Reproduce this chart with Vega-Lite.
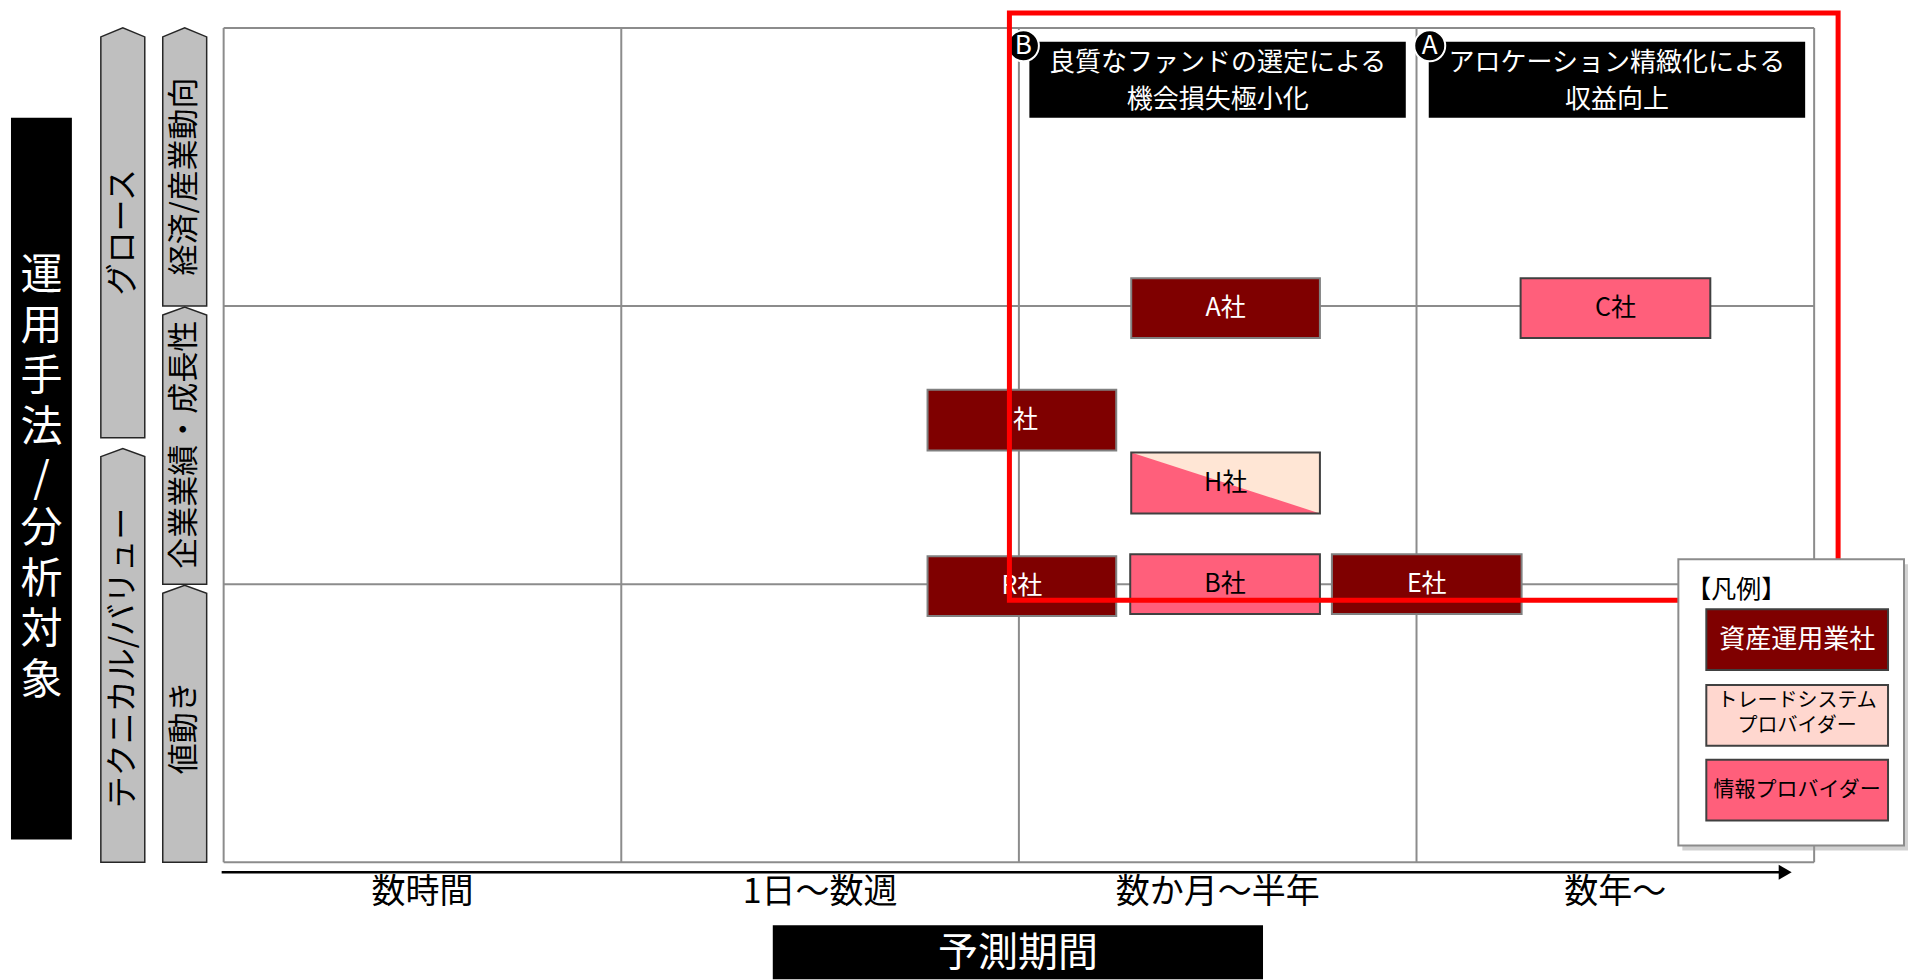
{
  "$schema": "https://vega.github.io/schema/vega-lite/v6.json",
  "width": 1908,
  "height": 980,
  "autosize": {"type": "fit", "contains": "padding"},
  "padding": 0,
  "background": "white",
  "config": {"font": "Noto Sans CJK JP", "view": {"stroke": null}},
  "layer": [
    {
      "data": {"values": [
        {"x": 0, "x2": 0, "y": 0, "y2": 3},
        {"x": 1, "x2": 1, "y": 0, "y2": 3},
        {"x": 2, "x2": 2, "y": 0, "y2": 3},
        {"x": 3, "x2": 3, "y": 0, "y2": 3},
        {"x": 4, "x2": 4, "y": 0, "y2": 3},
        {"x": 0, "x2": 4, "y": 0, "y2": 0},
        {"x": 0, "x2": 4, "y": 1, "y2": 1},
        {"x": 0, "x2": 4, "y": 2, "y2": 2},
        {"x": 0, "x2": 4, "y": 3, "y2": 3}
      ]},
      "mark": {"type": "rule", "stroke": "#8c8c8c", "strokeWidth": 2},
      "encoding": {
        "x": {"field": "x", "type": "quantitative", "scale": {"domain": [-0.56246, 4.2285], "nice": false, "zero": false}, "axis": null},
        "x2": {"field": "x2"},
        "y": {"field": "y", "type": "quantitative", "scale": {"domain": [-0.41219, 3.10036], "nice": false, "zero": false}, "axis": null},
        "y2": {"field": "y2"}
      }
    },
    {
      "data": {"values": [
        {"tab": "growth", "u": -0.30885, "top": 2.96774, "bot": 1.52688},
        {"tab": "growth", "u": -0.25361, "top": 3.0, "bot": 1.52688},
        {"tab": "growth", "u": -0.19837, "top": 2.96774, "bot": 1.52688},
        {"tab": "value", "u": -0.30885, "top": 1.45878, "bot": 0},
        {"tab": "value", "u": -0.25361, "top": 1.48746, "bot": 0},
        {"tab": "value", "u": -0.19837, "top": 1.45878, "bot": 0},
        {"tab": "macro", "u": -0.15317, "top": 2.96774, "bot": 2.0},
        {"tab": "macro", "u": -0.09793, "top": 3.0, "bot": 2.0},
        {"tab": "macro", "u": -0.04269, "top": 2.96774, "bot": 2.0},
        {"tab": "earn", "u": -0.15317, "top": 1.96774, "bot": 1.0},
        {"tab": "earn", "u": -0.09793, "top": 1.99642, "bot": 1.0},
        {"tab": "earn", "u": -0.04269, "top": 1.96774, "bot": 1.0},
        {"tab": "price", "u": -0.15317, "top": 0.96774, "bot": 0},
        {"tab": "price", "u": -0.09793, "top": 0.99642, "bot": 0},
        {"tab": "price", "u": -0.04269, "top": 0.96774, "bot": 0}
      ]},
      "mark": {"type": "area", "orient": "vertical", "interpolate": "linear", "fill": "#bfbfbf", "fillOpacity": 1, "stroke": "#262626", "strokeWidth": 1.5},
      "encoding": {
        "x": {"field": "u", "type": "quantitative", "scale": {"domain": [-0.56246, 4.2285], "nice": false, "zero": false}, "axis": null},
        "y": {"field": "top", "type": "quantitative", "scale": {"domain": [-0.41219, 3.10036], "nice": false, "zero": false}, "axis": null},
        "y2": {"field": "bot"},
        "detail": {"field": "tab", "type": "nominal"}
      }
    },
    {
      "data": {"values": [{"x": -0.53484, "x2": -0.38167, "y": 2.67742, "y2": 0.08244}]},
      "mark": {"type": "rect", "fill": "#000000"},
      "encoding": {
        "x": {"field": "x", "type": "quantitative", "scale": {"domain": [-0.56246, 4.2285], "nice": false, "zero": false}, "axis": null},
        "x2": {"field": "x2"},
        "y": {"field": "y", "type": "quantitative", "scale": {"domain": [-0.41219, 3.10036], "nice": false, "zero": false}, "axis": null},
        "y2": {"field": "y2"}
      }
    },
    {
      "data": {"values": [
        {"u": -0.45826, "v": 2.10753, "label": "運"},
        {"u": -0.45826, "v": 1.92563, "label": "用"},
        {"u": -0.45826, "v": 1.74373, "label": "手"},
        {"u": -0.45826, "v": 1.56183, "label": "法"},
        {"u": -0.45826, "v": 1.37993, "label": "/"},
        {"u": -0.45826, "v": 1.19803, "label": "分"},
        {"u": -0.45826, "v": 1.01613, "label": "析"},
        {"u": -0.45826, "v": 0.83423, "label": "対"},
        {"u": -0.45826, "v": 0.65233, "label": "象"}
      ]},
      "mark": {"type": "text", "fill": "white", "fontSize": 42, "align": "center", "baseline": "middle"},
      "encoding": {
        "x": {"field": "u", "type": "quantitative", "scale": {"domain": [-0.56246, 4.2285], "nice": false, "zero": false}, "axis": null},
        "y": {"field": "v", "type": "quantitative", "scale": {"domain": [-0.41219, 3.10036], "nice": false, "zero": false}, "axis": null},
        "text": {"field": "label"}
      }
    },
    {
      "data": {"values": [
        {"u": -0.25361, "v": 2.26523, "label": "グロース"},
        {"u": -0.25361, "v": 0.73477, "label": "テクニカル/バリュー"}
      ]},
      "mark": {"type": "text", "angle": 270, "fill": "black", "fontSize": 32, "align": "center", "baseline": "middle"},
      "encoding": {
        "x": {"field": "u", "type": "quantitative", "scale": {"domain": [-0.56246, 4.2285], "nice": false, "zero": false}, "axis": null},
        "y": {"field": "v", "type": "quantitative", "scale": {"domain": [-0.41219, 3.10036], "nice": false, "zero": false}, "axis": null},
        "text": {"field": "label"}
      }
    },
    {
      "data": {"values": [
        {"u": -0.09793, "v": 2.46595, "label": "経済/産業動向"},
        {"u": -0.09793, "v": 1.50179, "label": "企業業績・成長性"},
        {"u": -0.09793, "v": 0.48387, "label": "値動き"}
      ]},
      "mark": {"type": "text", "angle": 270, "fill": "black", "fontSize": 31, "align": "center", "baseline": "middle"},
      "encoding": {
        "x": {"field": "u", "type": "quantitative", "scale": {"domain": [-0.56246, 4.2285], "nice": false, "zero": false}, "axis": null},
        "y": {"field": "v", "type": "quantitative", "scale": {"domain": [-0.41219, 3.10036], "nice": false, "zero": false}, "axis": null},
        "text": {"field": "label"}
      }
    },
    {
      "data": {"values": [
        {"name": "A社", "kind": "asset", "x": 2.28249, "x2": 2.75706, "y": 2.10036, "y2": 1.8853},
        {"name": "C社", "kind": "info", "x": 3.26177, "x2": 3.73886, "y": 2.10036, "y2": 1.8853},
        {"name": "I社", "kind": "asset", "x": 1.77024, "x2": 2.24482, "y": 1.69892, "y2": 1.48029},
        {"name": "H社", "kind": "mixed", "x": 2.28249, "x2": 2.75706, "y": 1.47312, "y2": 1.25448},
        {"name": "R社", "kind": "asset", "x": 1.77024, "x2": 2.24482, "y": 1.10036, "y2": 0.8853},
        {"name": "B社", "kind": "info", "x": 2.27998, "x2": 2.75706, "y": 1.10753, "y2": 0.89247},
        {"name": "E社", "kind": "asset", "x": 2.78719, "x2": 3.26428, "y": 1.10753, "y2": 0.89247}
      ]},
      "mark": {"type": "rect"},
      "encoding": {
        "x": {"field": "x", "type": "quantitative", "scale": {"domain": [-0.56246, 4.2285], "nice": false, "zero": false}, "axis": null},
        "x2": {"field": "x2"},
        "y": {"field": "y", "type": "quantitative", "scale": {"domain": [-0.41219, 3.10036], "nice": false, "zero": false}, "axis": null},
        "y2": {"field": "y2"},
        "fill": {"field": "kind", "type": "nominal", "scale": {"domain": ["asset", "info", "mixed", "trade"], "range": ["#7f0000", "#ff5f7b", "#ff5f7b", "#ffd7cf"]}, "legend": null}
      }
    },
    {
      "data": {"values": [
        {"u": 2.28249, "top": 1.47312, "bot": 1.47312},
        {"u": 2.75706, "top": 1.47312, "bot": 1.25448}
      ]},
      "mark": {"type": "area", "orient": "vertical", "interpolate": "linear", "fill": "#ffe6d5", "fillOpacity": 1},
      "encoding": {
        "x": {"field": "u", "type": "quantitative", "scale": {"domain": [-0.56246, 4.2285], "nice": false, "zero": false}, "axis": null},
        "y": {"field": "top", "type": "quantitative", "scale": {"domain": [-0.41219, 3.10036], "nice": false, "zero": false}, "axis": null},
        "y2": {"field": "bot"}
      }
    },
    {
      "data": {"values": [
        {"kind": "asset", "x": 2.28249, "x2": 2.75706, "y": 2.10036, "y2": 1.8853},
        {"kind": "info", "x": 3.26177, "x2": 3.73886, "y": 2.10036, "y2": 1.8853},
        {"kind": "asset", "x": 1.77024, "x2": 2.24482, "y": 1.69892, "y2": 1.48029},
        {"kind": "mixed", "x": 2.28249, "x2": 2.75706, "y": 1.47312, "y2": 1.25448},
        {"kind": "asset", "x": 1.77024, "x2": 2.24482, "y": 1.10036, "y2": 0.8853},
        {"kind": "info", "x": 2.27998, "x2": 2.75706, "y": 1.10753, "y2": 0.89247},
        {"kind": "asset", "x": 2.78719, "x2": 3.26428, "y": 1.10753, "y2": 0.89247}
      ]},
      "mark": {"type": "rect", "fill": "transparent", "strokeWidth": 2},
      "encoding": {
        "x": {"field": "x", "type": "quantitative", "scale": {"domain": [-0.56246, 4.2285], "nice": false, "zero": false}, "axis": null},
        "x2": {"field": "x2"},
        "y": {"field": "y", "type": "quantitative", "scale": {"domain": [-0.41219, 3.10036], "nice": false, "zero": false}, "axis": null},
        "y2": {"field": "y2"},
        "stroke": {"field": "kind", "type": "nominal", "scale": {"domain": ["asset", "info", "mixed"], "range": ["#808080", "#404040", "#404040"]}, "legend": null}
      }
    },
    {
      "data": {"values": [
        {"name": "A社", "kind": "asset", "u": 2.51977, "v": 1.99283},
        {"name": "C社", "kind": "info", "u": 3.50031, "v": 1.99283},
        {"name": "I社", "kind": "asset", "u": 2.00753, "v": 1.58961},
        {"name": "H社", "kind": "mixed", "u": 2.51977, "v": 1.3638},
        {"name": "R社", "kind": "asset", "u": 2.00753, "v": 0.99283},
        {"name": "B社", "kind": "info", "u": 2.51852, "v": 1.0},
        {"name": "E社", "kind": "asset", "u": 3.02573, "v": 1.0}
      ]},
      "mark": {"type": "text", "fontSize": 25, "align": "center", "baseline": "middle"},
      "encoding": {
        "x": {"field": "u", "type": "quantitative", "scale": {"domain": [-0.56246, 4.2285], "nice": false, "zero": false}, "axis": null},
        "y": {"field": "v", "type": "quantitative", "scale": {"domain": [-0.41219, 3.10036], "nice": false, "zero": false}, "axis": null},
        "text": {"field": "name"},
        "color": {"field": "kind", "type": "nominal", "scale": {"domain": ["asset", "info", "mixed"], "range": ["#ffffff", "#000000", "#000000"]}, "legend": null}
      }
    },
    {
      "data": {"values": [
        {"x": 2.02637, "x2": 2.97301, "y": 2.94982, "y2": 2.67742},
        {"x": 3.03076, "x2": 3.9774, "y": 2.94982, "y2": 2.67742}
      ]},
      "mark": {"type": "rect", "fill": "#000000"},
      "encoding": {
        "x": {"field": "x", "type": "quantitative", "scale": {"domain": [-0.56246, 4.2285], "nice": false, "zero": false}, "axis": null},
        "x2": {"field": "x2"},
        "y": {"field": "y", "type": "quantitative", "scale": {"domain": [-0.41219, 3.10036], "nice": false, "zero": false}, "axis": null},
        "y2": {"field": "y2"}
      }
    },
    {
      "data": {"values": [
        {"u": 2.5, "v": 2.87455, "label": "良質なファンドの選定による\n機会損失極小化"},
        {"u": 3.50408, "v": 2.87455, "label": "アロケーション精緻化による\n収益向上"}
      ]},
      "mark": {"type": "text", "fill": "white", "fontSize": 26, "lineHeight": 37, "lineBreak": "\n", "align": "center", "baseline": "middle"},
      "encoding": {
        "x": {"field": "u", "type": "quantitative", "scale": {"domain": [-0.56246, 4.2285], "nice": false, "zero": false}, "axis": null},
        "y": {"field": "v", "type": "quantitative", "scale": {"domain": [-0.41219, 3.10036], "nice": false, "zero": false}, "axis": null},
        "text": {"field": "label"}
      }
    },
    {
      "data": {"values": [
        {"u": 2.0113, "v": 2.93548, "label": "B"},
        {"u": 3.03327, "v": 2.93548, "label": "A"}
      ]},
      "mark": {"type": "point", "shape": "circle", "filled": true, "fill": "#000000", "stroke": "#ffffff", "strokeWidth": 2, "size": 960, "opacity": 1},
      "encoding": {
        "x": {"field": "u", "type": "quantitative", "scale": {"domain": [-0.56246, 4.2285], "nice": false, "zero": false}, "axis": null},
        "y": {"field": "v", "type": "quantitative", "scale": {"domain": [-0.41219, 3.10036], "nice": false, "zero": false}, "axis": null}
      }
    },
    {
      "data": {"values": [
        {"u": 2.0113, "v": 2.93548, "label": "B"},
        {"u": 3.03327, "v": 2.93548, "label": "A"}
      ]},
      "mark": {"type": "text", "fill": "white", "fontSize": 26, "align": "center", "baseline": "middle"},
      "encoding": {
        "x": {"field": "u", "type": "quantitative", "scale": {"domain": [-0.56246, 4.2285], "nice": false, "zero": false}, "axis": null},
        "y": {"field": "v", "type": "quantitative", "scale": {"domain": [-0.41219, 3.10036], "nice": false, "zero": false}, "axis": null},
        "text": {"field": "label"}
      }
    },
    {
      "data": {"values": [{"x": 1.97615, "x2": 4.06026, "y": 3.05376, "y2": 0.94265}]},
      "mark": {"type": "rect", "fill": "transparent", "stroke": "#ff0000", "strokeWidth": 5},
      "encoding": {
        "x": {"field": "x", "type": "quantitative", "scale": {"domain": [-0.56246, 4.2285], "nice": false, "zero": false}, "axis": null},
        "x2": {"field": "x2"},
        "y": {"field": "y", "type": "quantitative", "scale": {"domain": [-0.41219, 3.10036], "nice": false, "zero": false}, "axis": null},
        "y2": {"field": "y2"}
      }
    },
    {
      "data": {"values": [{"x": 3.66855, "x2": 4.236, "y": 1.07168, "y2": 0.04301}]},
      "mark": {"type": "rect", "fill": "#9a9a9a", "opacity": 0.45},
      "encoding": {
        "x": {"field": "x", "type": "quantitative", "scale": {"domain": [-0.56246, 4.2285], "nice": false, "zero": false}, "axis": null},
        "x2": {"field": "x2"},
        "y": {"field": "y", "type": "quantitative", "scale": {"domain": [-0.41219, 3.10036], "nice": false, "zero": false}, "axis": null},
        "y2": {"field": "y2"}
      }
    },
    {
      "data": {"values": [{"x": 3.6585, "x2": 4.22599, "y": 1.08961, "y2": 0.06093}]},
      "mark": {"type": "rect", "fill": "#ffffff", "stroke": "#8c8c8c", "strokeWidth": 2},
      "encoding": {
        "x": {"field": "x", "type": "quantitative", "scale": {"domain": [-0.56246, 4.2285], "nice": false, "zero": false}, "axis": null},
        "x2": {"field": "x2"},
        "y": {"field": "y", "type": "quantitative", "scale": {"domain": [-0.41219, 3.10036], "nice": false, "zero": false}, "axis": null},
        "y2": {"field": "y2"}
      }
    },
    {
      "data": {"values": [
        {"kind": "asset", "x": 3.72881, "x2": 4.18581, "y": 0.91039, "y2": 0.69176},
        {"kind": "trade", "x": 3.72881, "x2": 4.18581, "y": 0.63799, "y2": 0.41935},
        {"kind": "info", "x": 3.72881, "x2": 4.18581, "y": 0.36918, "y2": 0.15054}
      ]},
      "mark": {"type": "rect", "stroke": "#404040", "strokeWidth": 2},
      "encoding": {
        "x": {"field": "x", "type": "quantitative", "scale": {"domain": [-0.56246, 4.2285], "nice": false, "zero": false}, "axis": null},
        "x2": {"field": "x2"},
        "y": {"field": "y", "type": "quantitative", "scale": {"domain": [-0.41219, 3.10036], "nice": false, "zero": false}, "axis": null},
        "y2": {"field": "y2"},
        "fill": {"field": "kind", "type": "nominal", "scale": {"domain": ["asset", "info", "mixed", "trade"], "range": ["#7f0000", "#ff5f7b", "#ff5f7b", "#ffd7cf"]}, "legend": null}
      }
    },
    {
      "data": {"values": [{"u": 3.69868, "v": 0.97849, "label": "【凡例】"}]},
      "mark": {"type": "text", "fill": "black", "fontSize": 25, "align": "left", "baseline": "middle", "dx": -8},
      "encoding": {
        "x": {"field": "u", "type": "quantitative", "scale": {"domain": [-0.56246, 4.2285], "nice": false, "zero": false}, "axis": null},
        "y": {"field": "v", "type": "quantitative", "scale": {"domain": [-0.41219, 3.10036], "nice": false, "zero": false}, "axis": null},
        "text": {"field": "label"}
      }
    },
    {
      "data": {"values": [{"u": 3.95731, "v": 0.80108, "label": "資産運用業社"}]},
      "mark": {"type": "text", "fill": "white", "fontSize": 26, "align": "center", "baseline": "middle"},
      "encoding": {
        "x": {"field": "u", "type": "quantitative", "scale": {"domain": [-0.56246, 4.2285], "nice": false, "zero": false}, "axis": null},
        "y": {"field": "v", "type": "quantitative", "scale": {"domain": [-0.41219, 3.10036], "nice": false, "zero": false}, "axis": null},
        "text": {"field": "label"}
      }
    },
    {
      "data": {"values": [{"u": 3.95731, "v": 0.58065, "label": "トレードシステム\nプロバイダー"}]},
      "mark": {"type": "text", "fill": "black", "fontSize": 20, "lineHeight": 25, "lineBreak": "\n", "align": "center", "baseline": "middle"},
      "encoding": {
        "x": {"field": "u", "type": "quantitative", "scale": {"domain": [-0.56246, 4.2285], "nice": false, "zero": false}, "axis": null},
        "y": {"field": "v", "type": "quantitative", "scale": {"domain": [-0.41219, 3.10036], "nice": false, "zero": false}, "axis": null},
        "text": {"field": "label"}
      }
    },
    {
      "data": {"values": [{"u": 3.95731, "v": 0.25986, "label": "情報プロバイダー"}]},
      "mark": {"type": "text", "fill": "black", "fontSize": 21, "align": "center", "baseline": "middle"},
      "encoding": {
        "x": {"field": "u", "type": "quantitative", "scale": {"domain": [-0.56246, 4.2285], "nice": false, "zero": false}, "axis": null},
        "y": {"field": "v", "type": "quantitative", "scale": {"domain": [-0.41219, 3.10036], "nice": false, "zero": false}, "axis": null},
        "text": {"field": "label"}
      }
    },
    {
      "data": {"values": [{"x": -0.00502, "x2": 3.91212, "y": -0.03584}]},
      "mark": {"type": "rule", "stroke": "#000000", "strokeWidth": 2.5},
      "encoding": {
        "x": {"field": "x", "type": "quantitative", "scale": {"domain": [-0.56246, 4.2285], "nice": false, "zero": false}, "axis": null},
        "x2": {"field": "x2"},
        "y": {"field": "y", "type": "quantitative", "scale": {"domain": [-0.41219, 3.10036], "nice": false, "zero": false}, "axis": null}
      }
    },
    {
      "data": {"values": [{"u": 3.92718, "v": -0.03584}]},
      "mark": {"type": "point", "shape": "triangle-right", "filled": true, "fill": "#000000", "size": 225, "opacity": 1},
      "encoding": {
        "x": {"field": "u", "type": "quantitative", "scale": {"domain": [-0.56246, 4.2285], "nice": false, "zero": false}, "axis": null},
        "y": {"field": "v", "type": "quantitative", "scale": {"domain": [-0.41219, 3.10036], "nice": false, "zero": false}, "axis": null}
      }
    },
    {
      "data": {"values": [
        {"u": 0.5, "v": -0.11111, "label": "数時間"},
        {"u": 1.5, "v": -0.11111, "label": "1日～数週"},
        {"u": 2.5, "v": -0.11111, "label": "数か月～半年"},
        {"u": 3.5, "v": -0.11111, "label": "数年～"}
      ]},
      "mark": {"type": "text", "fill": "black", "fontSize": 34, "align": "center", "baseline": "middle"},
      "encoding": {
        "x": {"field": "u", "type": "quantitative", "scale": {"domain": [-0.56246, 4.2285], "nice": false, "zero": false}, "axis": null},
        "y": {"field": "v", "type": "quantitative", "scale": {"domain": [-0.41219, 3.10036], "nice": false, "zero": false}, "axis": null},
        "text": {"field": "label"}
      }
    },
    {
      "data": {"values": [{"x": 1.38104, "x2": 2.61393, "y": -0.22581, "y2": -0.42}]},
      "mark": {"type": "rect", "fill": "#000000"},
      "encoding": {
        "x": {"field": "x", "type": "quantitative", "scale": {"domain": [-0.56246, 4.2285], "nice": false, "zero": false}, "axis": null},
        "x2": {"field": "x2"},
        "y": {"field": "y", "type": "quantitative", "scale": {"domain": [-0.41219, 3.10036], "nice": false, "zero": false}, "axis": null},
        "y2": {"field": "y2"}
      }
    },
    {
      "data": {"values": [{"u": 1.9975, "v": -0.32975, "label": "予測期間"}]},
      "mark": {"type": "text", "fill": "white", "fontSize": 40, "align": "center", "baseline": "middle"},
      "encoding": {
        "x": {"field": "u", "type": "quantitative", "scale": {"domain": [-0.56246, 4.2285], "nice": false, "zero": false}, "axis": null},
        "y": {"field": "v", "type": "quantitative", "scale": {"domain": [-0.41219, 3.10036], "nice": false, "zero": false}, "axis": null},
        "text": {"field": "label"}
      }
    }
  ]
}
